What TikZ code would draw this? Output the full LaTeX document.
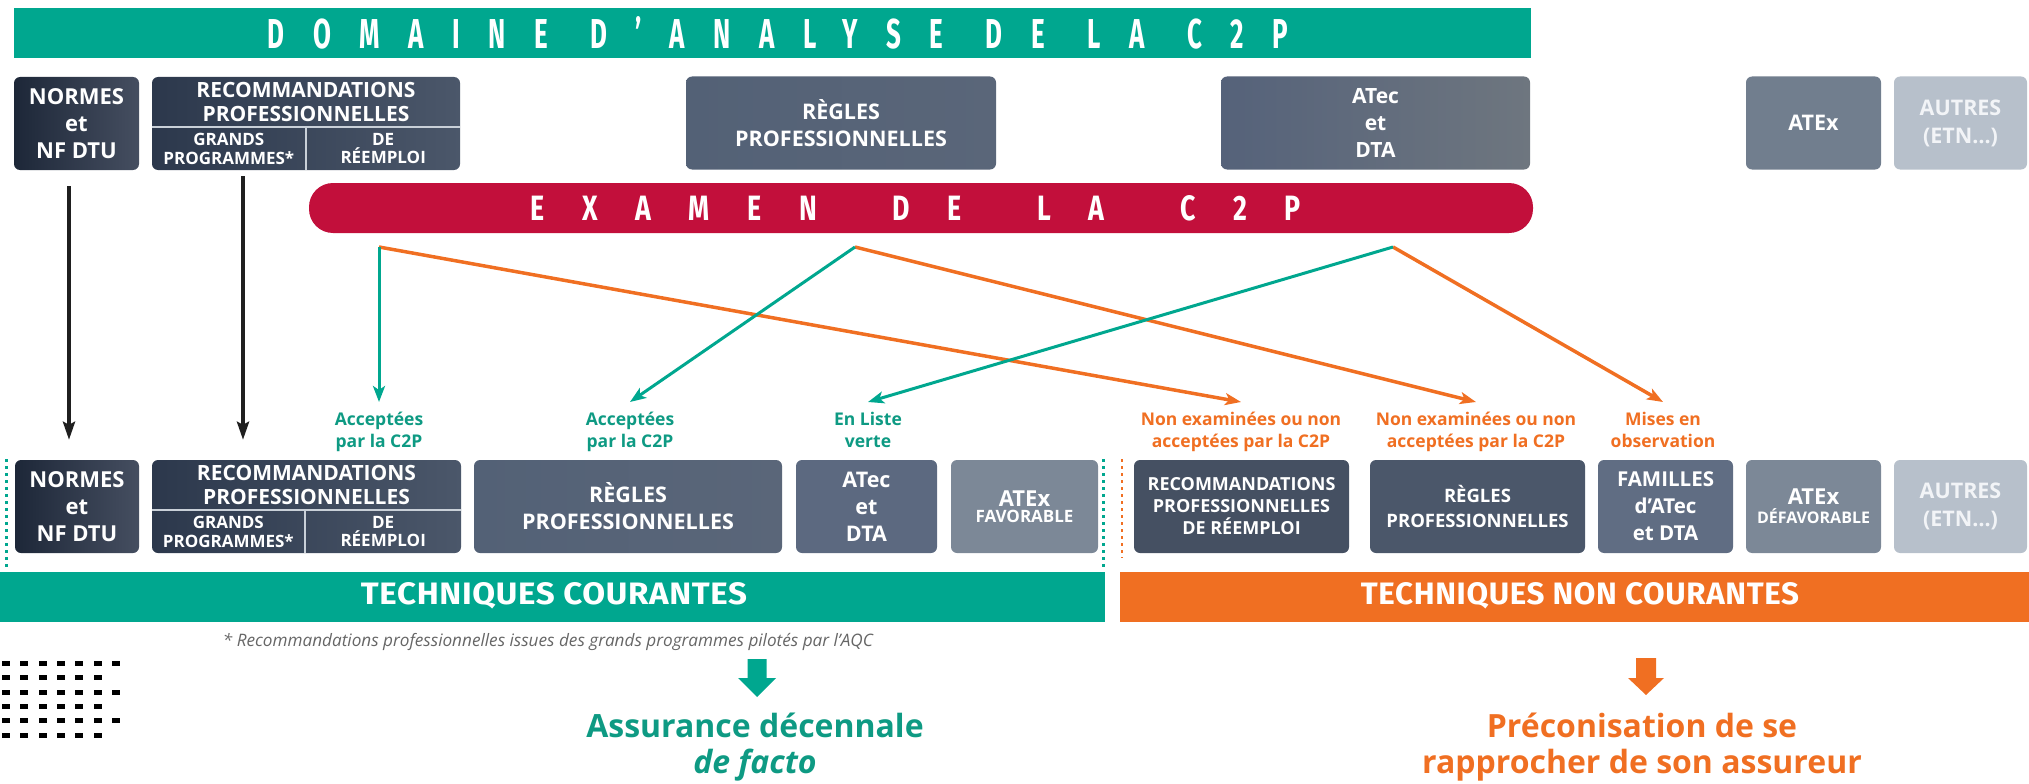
\documentclass[tikz,border=0pt]{standalone}
\usepackage{fontspec}
\usepackage{graphicx}
\usetikzlibrary{arrows.meta,calc}
\setmainfont{Open Sans}
\newfontfamily\banf[LetterSpace=110]{Fira Sans}
\newfontfamily\examf[LetterSpace=140]{Fira Sans}
\newfontfamily\barf[LetterSpace=2]{Fira Sans}
\definecolor{cgreen}{HTML}{00A78F}
\definecolor{cgreentxt}{HTML}{0E9A83}
\definecolor{cred}{HTML}{C20F3B}
\definecolor{corange}{HTML}{F06F22}
\definecolor{nvA}{HTML}{1D2738}
\definecolor{nvB}{HTML}{454E60}
\definecolor{rcA}{HTML}{2C384C}
\definecolor{rcB}{HTML}{4B576A}
\definecolor{rgA}{HTML}{536176}
\definecolor{rgM}{HTML}{7C899A}
\definecolor{rgB}{HTML}{5A6679}
\definecolor{atA}{HTML}{55627A}
\definecolor{atM}{HTML}{7A8798}
\definecolor{atB}{HTML}{6E767F}
\definecolor{axT}{HTML}{717E8E}
\definecolor{auT}{HTML}{B7C0CB}
\definecolor{auTxt}{HTML}{F2F4F7}
\definecolor{divc}{HTML}{C9D0D8}
\begin{document}
\begin{tikzpicture}[x=1pt,y=-1pt,
  card/.style={rounded corners=6pt, inner sep=0pt, minimum height=93pt, align=center, text=white},
  cardtxt/.style={inner sep=0pt, align=center, text=white},
  small/.style={font=\bfseries\fontsize{17}{18.5}\selectfont},
  lab/.style={inner xsep=1pt, inner ysep=10pt, align=center, anchor=north, font=\bfseries\fontsize{17.5}{22}\selectfont},
  glab/.style={lab, text=cgreentxt},
  olab/.style={lab, text=corange},
  garr/.style={draw=cgreen, line width=3pt, -{Stealth[length=16pt,width=12pt,inset=4pt]}},
  oarr/.style={draw=corange, line width=3.5pt, -{Stealth[length=16pt,width=12pt,inset=4pt]}},
  karr/.style={draw=black!88, line width=4pt, -{Stealth[length=18pt,width=12pt,inset=3pt]}},
  divline/.style={draw=divc, line width=2pt},
  gdots/.style={draw=cgreen, line width=3pt, dash pattern=on 2.5pt off 4.5pt},
  odots/.style={draw=corange, line width=2.5pt, dash pattern=on 2.5pt off 4.5pt},
]
\useasboundingbox (0,0) rectangle (2029,784);

% ---------- top banner
\node[fill=cgreen, minimum width=1517pt, minimum height=50pt, inner sep=0pt] (dom) at (772.5,33) {};
\node[inner sep=0pt, text=white] (domt) at (778,32.5) {\resizebox{1020pt}{32pt}{\banf\bfseries DOMAINE\hspace{0.3em} D’ANALYSE\hspace{0.3em} DE\hspace{0.3em} LA\hspace{0.3em} C2P}};

% ---------- top row
\node[card, minimum width=125pt, left color=nvA, right color=nvB, font=\bfseries\fontsize{22}{27}\selectfont] (nT) at (76.5,123.5) {NORMES\\et\\NF DTU};
\node[card, minimum width=308pt, left color=rcA, right color=rcB] (rT) at (306,123.5) {};
\node[cardtxt, font=\bfseries\fontsize{21}{24}\selectfont] (rTa) at ($(rT.north)+(0,25)$) {RECOMMANDATIONS\\PROFESSIONNELLES};
\node[cardtxt, small] (rTb) at ($(rT.south west)+(77,-21.5)$) {GRANDS\\PROGRAMMES*};
\node[cardtxt, small] (rTc) at ($(rT.south east)+(-77,-21.5)$) {DE\\RÉEMPLOI};
\draw[divline] ($(rT.west)+(0,3.5)$) -- ($(rT.east)+(0,3.5)$);
\draw[divline] ($(rT.center)+(0,3.5)$) -- (rT.south);

\node[card, minimum width=310pt, left color=rgA, middle color=rgM, right color=rgB, font=\bfseries\fontsize{21.5}{27}\selectfont] (gT) at (841,123) {RÈGLES\\PROFESSIONNELLES};
\node[card, minimum width=309pt, left color=atA, middle color=atM, right color=atB, font=\bfseries\fontsize{21}{27}\selectfont] (aT) at (1375.5,123) {ATec\\et\\DTA};
\node[card, minimum width=135pt, fill=axT, font=\bfseries\fontsize{21.5}{27}\selectfont] (xT) at (1813.5,123) {ATEx};
\node[card, minimum width=133pt, fill=auT, text=auTxt, font=\bfseries\fontsize{21.5}{28}\selectfont] (oT) at (1960.5,123) {AUTRES\\(ETN…)};

% ---------- examen banner
\node[fill=cred, rounded corners=24pt, minimum width=1224pt, minimum height=50pt, inner sep=0pt] (exam) at (921,208) {};
\node[inner sep=0pt, text=white] (examt) at (916,208) {\resizebox{770pt}{25pt}{\examf\bfseries EXAMEN\hspace{1.2em} DE\hspace{1.2em} LA\hspace{1.2em} C2P}};

\coordinate (s1) at (379,247);
\coordinate (s2) at (855,247);
\coordinate (s3) at (1393,247);

% ---------- labels
\node[glab] (l1) at (379,402) {Acceptées\\par la C2P};
\node[glab] (l2) at (630,402) {Acceptées\\par la C2P};
\node[glab] (l3) at (868,402) {En Liste\\verte};
\node[olab] (l4) at (1241,402) {Non examinées ou non\\acceptées par la C2P};
\node[olab] (l5) at (1476,402) {Non examinées ou non\\acceptées par la C2P};
\node[olab] (l6) at (1663,402) {Mises en\\observation};

% ---------- bottom row
\node[card, minimum width=124pt, left color=nvA, right color=nvB, font=\bfseries\fontsize{22}{27}\selectfont] (nB) at (77,506.5) {NORMES\\et\\NF DTU};
\node[card, minimum width=309pt, left color=rcA, right color=rcB] (rB) at (306.5,506.5) {};
\node[cardtxt, font=\bfseries\fontsize{21}{24}\selectfont] (rBa) at ($(rB.north)+(0,25)$) {RECOMMANDATIONS\\PROFESSIONNELLES};
\node[cardtxt, small] (rBb) at ($(rB.south west)+(76.5,-21.5)$) {GRANDS\\PROGRAMMES*};
\node[cardtxt, small] (rBc) at ($(rB.south east)+(-78,-21.5)$) {DE\\RÉEMPLOI};
\draw[divline] ($(rB.west)+(0,3.5)$) -- ($(rB.east)+(0,3.5)$);
\draw[divline] ($(rB.center)+(-1.5,3.5)$) -- ($(rB.south)+(-1.5,0)$);

\node[card, minimum width=308pt, left color=rgA, middle color=rgM, right color=rgB, font=\bfseries\fontsize{21.5}{27}\selectfont] (gB) at (628,506.5) {RÈGLES\\PROFESSIONNELLES};
\node[card, minimum width=141pt, fill=atA!80!atM, font=\bfseries\fontsize{21.5}{27}\selectfont] (aB) at (866.5,506.5) {ATec\\et\\DTA};
\node[card, minimum width=147pt, fill=axT!92!white] (fB) at (1024.5,506.5) {{\bfseries\fontsize{22}{26}\selectfont ATEx}\\[3pt]{\bfseries\fontsize{17}{20}\selectfont FAVORABLE}};

\node[card, minimum width=215pt, fill=rcB!92!black, font=\bfseries\fontsize{18}{22}\selectfont] (rrB) at (1241.5,506.5) {RECOMMANDATIONS\\PROFESSIONNELLES\\DE RÉEMPLOI};
\node[card, minimum width=215pt, fill=rcB, font=\bfseries\fontsize{18.5}{25}\selectfont] (g2B) at (1477.5,506.5) {RÈGLES\\PROFESSIONNELLES};
\node[card, minimum width=135pt, fill=atA!70!atM, font=\bfseries\fontsize{20.5}{27}\selectfont] (famB) at (1665.5,506.5) {FAMILLES\\d’ATec\\et DTA};
\node[card, minimum width=135pt, fill=axT!92!white] (dB) at (1813.5,506.5) {{\bfseries\fontsize{22}{26}\selectfont ATEx}\\[3pt]{\bfseries\fontsize{16}{20}\selectfont DÉFAVORABLE}};
\node[card, minimum width=133pt, fill=auT, text=auTxt, font=\bfseries\fontsize{21.5}{28}\selectfont] (oB) at (1960.5,506.5) {AUTRES\\(ETN…)};

% ---------- dotted separators
\draw[gdots] (6,459) -- (6,568);
\draw[gdots] (1103,459) -- (1103,568);
\draw[odots] (1122,459) -- (1122,558);

% ---------- bottom bars
\node[fill=cgreen, minimum width=1105pt, minimum height=50pt, inner sep=0pt] (tc) at (552.5,597) {};
\node[inner sep=0pt, text=white] (tct) at (554,596) {\resizebox{386pt}{22pt}{\barf\bfseries TECHNIQUES COURANTES}};
\node[fill=corange, minimum width=909pt, minimum height=50pt, inner sep=0pt] (tn) at (1574.5,597) {};
\node[inner sep=0pt, text=white] (tnt) at (1580,596) {\resizebox{438pt}{22pt}{\barf\bfseries TECHNIQUES NON COURANTES}};

% ---------- footnote
\node[inner sep=0pt, text=black!60] (fn) at (548,642) {\resizebox{650pt}{!}{\itshape * Recommandations professionnelles issues des grands programmes pilotés par l’AQC}};

% ---------- connectors
\draw[karr, shorten <=16pt, shorten >=20pt] ([xshift=-7.5pt]nT.south) -- ([xshift=-8pt]nB.north);
\draw[karr, shorten <=6pt, shorten >=20pt] ([xshift=-63pt]rT.south) -- ([xshift=-63.5pt]rB.north);

\draw[oarr] (s1) -- (l4.north);
\draw[oarr] (s2) -- (l5.north);
\draw[oarr] (s3) -- (l6.north);
\draw[garr] (s1) -- (l1.north);
\draw[garr] (s2) -- (l2.north);
\draw[garr] (s3) -- (l3.north);

% ---------- outcomes
\coordinate (ga) at (757,659);
\fill[cgreen] ($(ga)+(-9.5,0)$) -- ($(ga)+(9.5,0)$) -- ($(ga)+(9.5,19)$) -- ($(ga)+(19,19)$) -- ($(ga)+(0,38)$) -- ($(ga)+(-19,19)$) -- ($(ga)+(-9.5,19)$) -- cycle;
\node[inner sep=0pt, anchor=base, text=cgreentxt, font=\bfseries\fontsize{32}{36}\selectfont] (as1) at (755,737) {Assurance décennale};
\node[inner sep=0pt, anchor=base, text=cgreentxt, font=\bfseries\itshape\fontsize{32}{36}\selectfont] (as2) at (755,773) {de facto};

\coordinate (oa) at (1646,658);
\fill[corange] ($(oa)+(-10,0)$) -- ($(oa)+(10,0)$) -- ($(oa)+(10,20)$) -- ($(oa)+(18,20)$) -- ($(oa)+(0,37)$) -- ($(oa)+(-18,20)$) -- ($(oa)+(-10,20)$) -- cycle;
\node[inner sep=0pt, anchor=base, text=corange, font=\bfseries\fontsize{32}{36}\selectfont] (pr1) at (1642,737) {Préconisation de se};
\node[inner sep=0pt, anchor=base, text=corange, font=\bfseries\fontsize{32}{36}\selectfont] (pr2) at (1642,773) {rapprocher de son assureur};

% ---------- dot pattern
\foreach \r in {0,...,5}{
  \pgfmathtruncatemacro\nd{6-mod(\r,2)}
  \foreach \k in {0,...,\nd}{
    \fill[black] (2+18.3*\k, 661+14.3*\r) rectangle ++(8,5);
  }
}
\end{tikzpicture}
\end{document}
